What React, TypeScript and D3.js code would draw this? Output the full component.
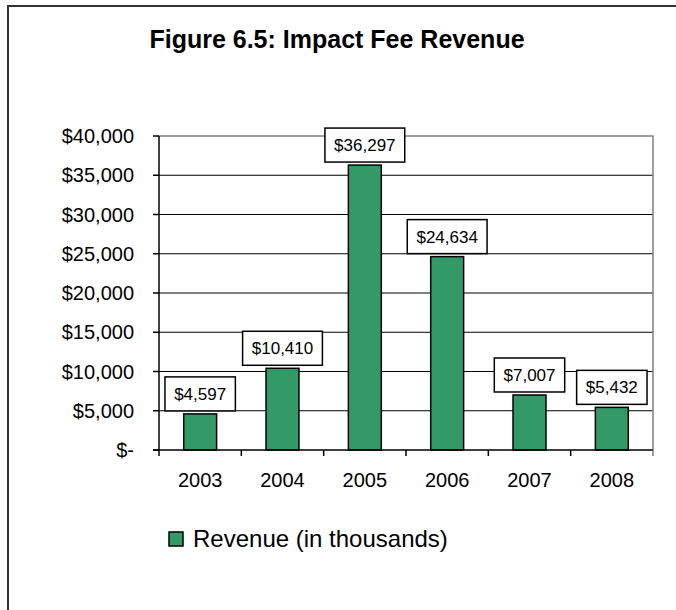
import React from 'react';
import * as d3 from 'd3';

const years = ['2003', '2004', '2005', '2006', '2007', '2008'];
const revenue = [4597, 10410, 36297, 24634, 7007, 5432];
const yTicks = [0, 5000, 10000, 15000, 20000, 25000, 30000, 35000, 40000];
const seriesName = 'Revenue (in thousands)';
const title = 'Figure 6.5: Impact Fee Revenue';

const W = 676;
const H = 610;
const plot = { left: 159, right: 653, top: 136, bottom: 450 };
const font = "'Liberation Sans', Arial, sans-serif";
const green = '#339966';

export default function App() {
  const x = d3
    .scaleBand<string>()
    .domain(years)
    .range([plot.left, plot.right])
    .paddingInner(0)
    .paddingOuter(0);
  const y = d3.scaleLinear().domain([0, 40000]).range([plot.bottom, plot.top]);
  const barW = x.bandwidth() / 2.5;
  const fmt = d3.format('$,');
  const tickText = (v: number) => (v === 0 ? '$-' : fmt(v));

  // label box width, roughly from the char count
  const labelW = (s: string) => s.length * 9.4 + 14;

  return (
    <svg
      width={W}
      height={H}
      style={{ display: 'block', position: 'absolute', left: 0, top: 0, overflow: 'hidden' }}
    >
      <rect x={0} y={0} width={W} height={H} fill="#fff" />
      {/* chart frame: only the top and left edges fall inside the picture */}
      <path d={`M8,${H}V6H${W}`} fill="none" stroke="#333" strokeWidth={2} />

      <text x={337} y={48} textAnchor="middle" fontFamily={font} fontWeight="bold" fontSize={25}>
        {title}
      </text>

      {/* gridlines */}
      {yTicks.slice(1, -1).map(t => (
        <line key={t} x1={plot.left} x2={plot.right} y1={y(t)} y2={y(t)} stroke="#000" strokeWidth={1} />
      ))}
      {/* plot area border, top and right */}
      <path
        d={`M${plot.left},${plot.top}H${plot.right}V${plot.bottom}`}
        fill="none"
        stroke="#808080"
        strokeWidth={1.5}
      />

      {/* bars */}
      {years.map((yr, i) => (
        <rect
          key={yr}
          x={(x(yr) as number) + (x.bandwidth() - barW) / 2}
          y={y(revenue[i])}
          width={barW}
          height={plot.bottom - y(revenue[i])}
          fill={green}
          stroke="#000"
          strokeWidth={1.5}
        />
      ))}

      {/* axes */}
      <line x1={plot.left} x2={plot.left} y1={plot.top} y2={plot.bottom} stroke="#000" strokeWidth={1.5} />
      <line x1={plot.left - 6} x2={plot.right} y1={plot.bottom} y2={plot.bottom} stroke="#000" strokeWidth={1.5} />
      {yTicks.map(t => (
        <g key={t}>
          <line x1={plot.left - 6} x2={plot.left} y1={y(t)} y2={y(t)} stroke="#000" strokeWidth={1.5} />
          <text x={134} y={y(t) + 7} textAnchor="end" fontFamily={font} fontSize={20}>
            {tickText(t)}
          </text>
        </g>
      ))}
      {years.map(yr => (
        <line
          key={yr}
          x1={x(yr) as number}
          x2={x(yr) as number}
          y1={plot.bottom}
          y2={plot.bottom + 6}
          stroke="#000"
          strokeWidth={1.5}
        />
      ))}
      <line x1={plot.right} x2={plot.right} y1={plot.bottom} y2={plot.bottom + 6} stroke="#808080" strokeWidth={1.5} />
      {years.map(yr => (
        <text
          key={yr}
          x={(x(yr) as number) + x.bandwidth() / 2}
          y={487}
          textAnchor="middle"
          fontFamily={font}
          fontSize={20}
        >
          {yr}
        </text>
      ))}

      {/* data labels */}
      {years.map((yr, i) => {
        const s = fmt(revenue[i]);
        const cx = (x(yr) as number) + x.bandwidth() / 2;
        const bw = labelW(s);
        const bottom = y(revenue[i]) - 3;
        return (
          <g key={yr}>
            <rect x={cx - bw / 2} y={bottom - 34} width={bw} height={34} fill="#fff" stroke="#000" strokeWidth={1.5} />
            <text x={cx} y={bottom - 11} textAnchor="middle" fontFamily={font} fontSize={17}>
              {s}
            </text>
          </g>
        );
      })}

      {/* legend */}
      <rect x={169} y={532} width={14} height={14} fill={green} stroke="#000" strokeWidth={1.5} />
      <text x={193} y={547} fontFamily={font} fontSize={24}>
        {seriesName}
      </text>
    </svg>
  );
}
